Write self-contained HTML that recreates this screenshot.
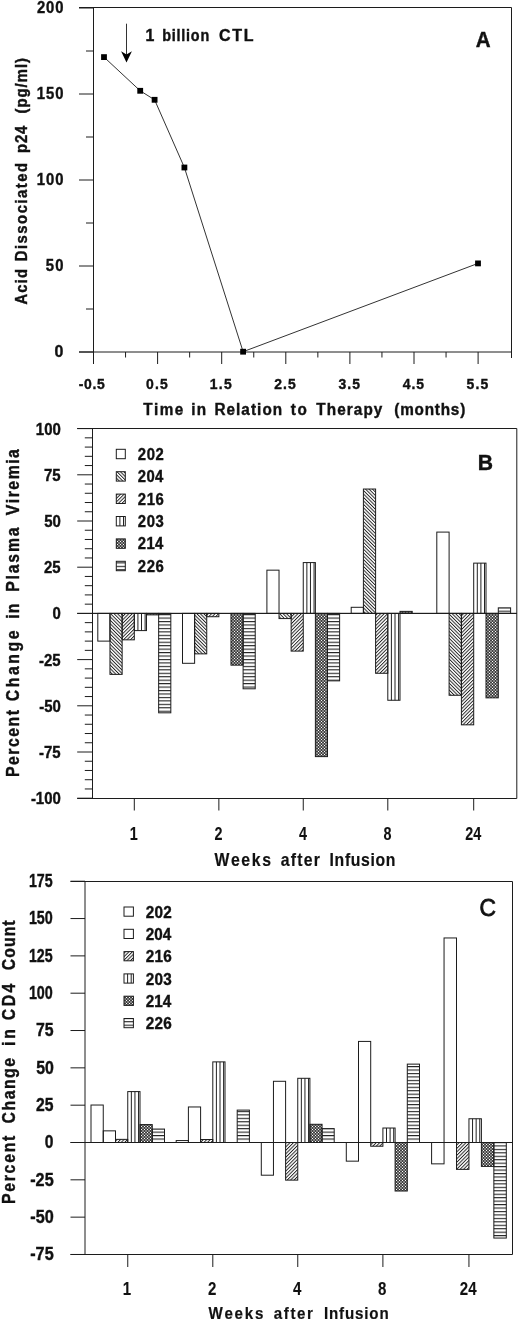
<!DOCTYPE html>
<html><head><meta charset="utf-8"><style>
html,body{margin:0;padding:0;background:#fff;}
svg{display:block;will-change:transform;}
text{font-family:"Liberation Sans",sans-serif;font-weight:bold;fill:#111;font-kerning:none;stroke:#111;stroke-width:0.4px;}
</style></head><body>
<svg width="520" height="1322" viewBox="0 0 520 1322">
<rect width="520" height="1322" fill="#fff"/>
<defs>
<pattern id="p204" patternUnits="userSpaceOnUse" width="2.440" height="10" patternTransform="rotate(-45)">
  <rect x="0" y="0" width="0.95" height="10" fill="#222"/></pattern>
<pattern id="p216" patternUnits="userSpaceOnUse" width="2.440" height="10" patternTransform="rotate(45)">
  <rect x="0" y="0" width="0.95" height="10" fill="#222"/></pattern>
<pattern id="p203" patternUnits="userSpaceOnUse" width="3.45" height="10">
  <rect x="0" y="0" width="1.0" height="10" fill="#222"/></pattern>
<pattern id="p226" patternUnits="userSpaceOnUse" width="10" height="3.45">
  <rect x="0" y="0" width="10" height="1.1" fill="#222"/></pattern>
<pattern id="p214a" patternUnits="userSpaceOnUse" width="2.12132" height="10" patternTransform="rotate(45)">
  <rect x="0" y="0" width="0.7" height="10" fill="#000"/></pattern>
<pattern id="p214b" patternUnits="userSpaceOnUse" width="2.12132" height="10" patternTransform="rotate(-45)">
  <rect x="0" y="0" width="0.7" height="10" fill="#000"/></pattern>
</defs>
<line x1="79" y1="7.5" x2="511.5" y2="7.5" stroke="#1c1c1c" stroke-width="1.0"/>
<line x1="93.5" y1="7.5" x2="93.5" y2="364" stroke="#1c1c1c" stroke-width="1.0"/>
<line x1="511.5" y1="7.5" x2="511.5" y2="358" stroke="#1c1c1c" stroke-width="1.0"/>
<line x1="79" y1="352" x2="511.5" y2="352" stroke="#1c1c1c" stroke-width="1.0"/>
<line x1="79" y1="8.0" x2="93.5" y2="8.0" stroke="#1c1c1c" stroke-width="1.0"/>
<line x1="79" y1="94.0" x2="93.5" y2="94.0" stroke="#1c1c1c" stroke-width="1.0"/>
<line x1="79" y1="180.0" x2="93.5" y2="180.0" stroke="#1c1c1c" stroke-width="1.0"/>
<line x1="79" y1="266.0" x2="93.5" y2="266.0" stroke="#1c1c1c" stroke-width="1.0"/>
<line x1="79" y1="352.0" x2="93.5" y2="352.0" stroke="#1c1c1c" stroke-width="1.0"/>
<line x1="86" y1="51.0" x2="93.5" y2="51.0" stroke="#1c1c1c" stroke-width="1.0"/>
<line x1="86" y1="137.0" x2="93.5" y2="137.0" stroke="#1c1c1c" stroke-width="1.0"/>
<line x1="86" y1="223.0" x2="93.5" y2="223.0" stroke="#1c1c1c" stroke-width="1.0"/>
<line x1="86" y1="309.0" x2="93.5" y2="309.0" stroke="#1c1c1c" stroke-width="1.0"/>
<line x1="93.5" y1="352" x2="93.5" y2="364" stroke="#1c1c1c" stroke-width="1.0"/>
<line x1="157.6" y1="352" x2="157.6" y2="364" stroke="#1c1c1c" stroke-width="1.0"/>
<line x1="221.7" y1="352" x2="221.7" y2="364" stroke="#1c1c1c" stroke-width="1.0"/>
<line x1="285.79999999999995" y1="352" x2="285.79999999999995" y2="364" stroke="#1c1c1c" stroke-width="1.0"/>
<line x1="349.9" y1="352" x2="349.9" y2="364" stroke="#1c1c1c" stroke-width="1.0"/>
<line x1="414.0" y1="352" x2="414.0" y2="364" stroke="#1c1c1c" stroke-width="1.0"/>
<line x1="478.09999999999997" y1="352" x2="478.09999999999997" y2="364" stroke="#1c1c1c" stroke-width="1.0"/>
<line x1="125.55" y1="352" x2="125.55" y2="357.5" stroke="#1c1c1c" stroke-width="1.0"/>
<line x1="189.64999999999998" y1="352" x2="189.64999999999998" y2="357.5" stroke="#1c1c1c" stroke-width="1.0"/>
<line x1="253.75" y1="352" x2="253.75" y2="357.5" stroke="#1c1c1c" stroke-width="1.0"/>
<line x1="317.84999999999997" y1="352" x2="317.84999999999997" y2="357.5" stroke="#1c1c1c" stroke-width="1.0"/>
<line x1="381.95" y1="352" x2="381.95" y2="357.5" stroke="#1c1c1c" stroke-width="1.0"/>
<line x1="446.04999999999995" y1="352" x2="446.04999999999995" y2="357.5" stroke="#1c1c1c" stroke-width="1.0"/>
<text transform="translate(37.60,13.00) scale(0.9,1)" x="-0.57" y="0" font-size="16.5" textLength="29.25" lengthAdjust="spacing">200</text>
<text transform="translate(37.60,99.00) scale(0.9,1)" x="-1.04" y="0" font-size="16.5" textLength="29.72" lengthAdjust="spacing">150</text>
<text transform="translate(37.60,185.00) scale(0.9,1)" x="-1.04" y="0" font-size="16.5" textLength="29.72" lengthAdjust="spacing">100</text>
<text transform="translate(46.30,271.00) scale(0.9,1)" x="-0.51" y="0" font-size="16.5" textLength="19.52" lengthAdjust="spacing">50</text>
<text transform="translate(55.20,357.00) scale(0.9,1)" x="-0.70" y="0" font-size="16.5" textLength="9.87" lengthAdjust="spacingAndGlyphs">0</text>
<text transform="translate(79.30,389.10) scale(0.9,1)" x="-0.61" y="0" font-size="15.5" textLength="29.04" lengthAdjust="spacing">-0.5</text>
<text transform="translate(146.50,389.10) scale(0.9,1)" x="-0.61" y="0" font-size="15.5" textLength="24.16" lengthAdjust="spacing">0.5</text>
<text transform="translate(210.60,389.10) scale(0.9,1)" x="-0.98" y="0" font-size="15.5" textLength="24.52" lengthAdjust="spacing">1.5</text>
<text transform="translate(274.70,389.10) scale(0.9,1)" x="-0.54" y="0" font-size="15.5" textLength="24.08" lengthAdjust="spacing">2.5</text>
<text transform="translate(338.80,389.10) scale(0.9,1)" x="-0.36" y="0" font-size="15.5" textLength="23.90" lengthAdjust="spacing">3.5</text>
<text transform="translate(402.90,389.10) scale(0.9,1)" x="-0.23" y="0" font-size="15.5" textLength="23.78" lengthAdjust="spacing">4.5</text>
<text transform="translate(467.00,389.10) scale(0.9,1)" x="-0.48" y="0" font-size="15.5" textLength="24.02" lengthAdjust="spacing">5.5</text>
<text transform="translate(143.50,414.80) scale(0.9,1)" x="-0.19" y="0" font-size="17" textLength="44.33" lengthAdjust="spacing">Time</text>
<text transform="translate(192.30,414.80) scale(0.9,1)" x="-1.19" y="0" font-size="17" textLength="16.54" lengthAdjust="spacing">in</text>
<text transform="translate(215.40,414.80) scale(0.9,1)" x="-1.14" y="0" font-size="17" textLength="75.30" lengthAdjust="spacing">Relation</text>
<text transform="translate(291.00,414.80) scale(0.9,1)" x="-0.21" y="0" font-size="17" textLength="17.87" lengthAdjust="spacing">to</text>
<text transform="translate(316.50,414.80) scale(0.9,1)" x="-0.19" y="0" font-size="17" textLength="73.39" lengthAdjust="spacing">Therapy</text>
<text transform="translate(395.10,414.80) scale(0.9,1)" x="-0.85" y="0" font-size="17" textLength="78.80" lengthAdjust="spacing">(months)</text>
<text transform="translate(26.60,304.10) rotate(-90) scale(0.9,1)" x="-0.41" y="0" font-size="16.5" textLength="39.39" lengthAdjust="spacing">Acid</text>
<text transform="translate(26.60,260.30) rotate(-90) scale(0.9,1)" x="-1.10" y="0" font-size="16.5" textLength="109.30" lengthAdjust="spacing">Dissociated</text>
<text transform="translate(26.60,151.90) rotate(-90) scale(0.9,1)" x="-1.09" y="0" font-size="16.5" textLength="30.18" lengthAdjust="spacing">p24</text>
<text transform="translate(26.60,112.70) rotate(-90) scale(0.9,1)" x="-0.82" y="0" font-size="16.5" textLength="61.59" lengthAdjust="spacing">(pg/ml)</text>
<polyline fill="none" stroke="#333" stroke-width="1" points="104.0,57.1 140.2,90.8 154.6,99.8 184.4,167.5 243.1,351.7 478.0,263.4"/>
<rect x="101.10" y="54.20" width="5.8" height="5.8" fill="#000"/>
<rect x="137.30" y="87.90" width="5.8" height="5.8" fill="#000"/>
<rect x="151.70" y="96.90" width="5.8" height="5.8" fill="#000"/>
<rect x="181.50" y="164.60" width="5.8" height="5.8" fill="#000"/>
<rect x="240.20" y="348.80" width="5.8" height="5.8" fill="#000"/>
<rect x="475.10" y="260.50" width="5.8" height="5.8" fill="#000"/>
<line x1="126.5" y1="23.7" x2="126.5" y2="55" stroke="#333" stroke-width="1.0"/>
<path d="M121.1,51.2 L126.5,54.6 L131.9,51.2 L126.5,62.6 Z" fill="#000"/>
<text transform="translate(146.50,40.50) scale(0.9,1)" x="-1.11" y="0" font-size="16" textLength="9.83" lengthAdjust="spacingAndGlyphs">1</text>
<text transform="translate(163.10,40.50) scale(0.9,1)" x="-1.05" y="0" font-size="16" textLength="52.27" lengthAdjust="spacing">billion</text>
<text transform="translate(219.60,40.50) scale(1.0,1)" x="-0.66" y="0" font-size="16" textLength="34.65" lengthAdjust="spacing">CTL</text>
<text transform="translate(476.20,46.90) scale(0.9,1)" x="-0.57" y="0" font-size="21.5" textLength="16.51" lengthAdjust="spacingAndGlyphs">A</text>
<line x1="77.2" y1="428.5" x2="516.8" y2="428.5" stroke="#1c1c1c" stroke-width="1.0"/>
<line x1="92.5" y1="428.5" x2="92.5" y2="798.5" stroke="#1c1c1c" stroke-width="1.0"/>
<line x1="516.8" y1="428.5" x2="516.8" y2="798.5" stroke="#1c1c1c" stroke-width="1.0"/>
<line x1="77.2" y1="798.5" x2="516.8" y2="798.5" stroke="#1c1c1c" stroke-width="1.0"/>
<line x1="77.2" y1="613.4" x2="516.8" y2="613.4" stroke="#1c1c1c" stroke-width="1.0"/>
<line x1="77.2" y1="798.2" x2="92.5" y2="798.2" stroke="#1c1c1c" stroke-width="1.0"/>
<line x1="84.8" y1="788.96" x2="92.5" y2="788.96" stroke="#1c1c1c" stroke-width="1.0"/>
<line x1="84.8" y1="779.72" x2="92.5" y2="779.72" stroke="#1c1c1c" stroke-width="1.0"/>
<line x1="84.8" y1="770.48" x2="92.5" y2="770.48" stroke="#1c1c1c" stroke-width="1.0"/>
<line x1="84.8" y1="761.24" x2="92.5" y2="761.24" stroke="#1c1c1c" stroke-width="1.0"/>
<line x1="77.2" y1="752.0" x2="92.5" y2="752.0" stroke="#1c1c1c" stroke-width="1.0"/>
<line x1="84.8" y1="742.76" x2="92.5" y2="742.76" stroke="#1c1c1c" stroke-width="1.0"/>
<line x1="84.8" y1="733.52" x2="92.5" y2="733.52" stroke="#1c1c1c" stroke-width="1.0"/>
<line x1="84.8" y1="724.28" x2="92.5" y2="724.28" stroke="#1c1c1c" stroke-width="1.0"/>
<line x1="84.8" y1="715.04" x2="92.5" y2="715.04" stroke="#1c1c1c" stroke-width="1.0"/>
<line x1="77.2" y1="705.8" x2="92.5" y2="705.8" stroke="#1c1c1c" stroke-width="1.0"/>
<line x1="84.8" y1="696.56" x2="92.5" y2="696.56" stroke="#1c1c1c" stroke-width="1.0"/>
<line x1="84.8" y1="687.3199999999999" x2="92.5" y2="687.3199999999999" stroke="#1c1c1c" stroke-width="1.0"/>
<line x1="84.8" y1="678.0799999999999" x2="92.5" y2="678.0799999999999" stroke="#1c1c1c" stroke-width="1.0"/>
<line x1="84.8" y1="668.84" x2="92.5" y2="668.84" stroke="#1c1c1c" stroke-width="1.0"/>
<line x1="77.2" y1="659.6" x2="92.5" y2="659.6" stroke="#1c1c1c" stroke-width="1.0"/>
<line x1="84.8" y1="650.36" x2="92.5" y2="650.36" stroke="#1c1c1c" stroke-width="1.0"/>
<line x1="84.8" y1="641.12" x2="92.5" y2="641.12" stroke="#1c1c1c" stroke-width="1.0"/>
<line x1="84.8" y1="631.88" x2="92.5" y2="631.88" stroke="#1c1c1c" stroke-width="1.0"/>
<line x1="84.8" y1="622.64" x2="92.5" y2="622.64" stroke="#1c1c1c" stroke-width="1.0"/>
<line x1="77.2" y1="613.4" x2="92.5" y2="613.4" stroke="#1c1c1c" stroke-width="1.0"/>
<line x1="84.8" y1="604.16" x2="92.5" y2="604.16" stroke="#1c1c1c" stroke-width="1.0"/>
<line x1="84.8" y1="594.92" x2="92.5" y2="594.92" stroke="#1c1c1c" stroke-width="1.0"/>
<line x1="84.8" y1="585.68" x2="92.5" y2="585.68" stroke="#1c1c1c" stroke-width="1.0"/>
<line x1="84.8" y1="576.4399999999999" x2="92.5" y2="576.4399999999999" stroke="#1c1c1c" stroke-width="1.0"/>
<line x1="77.2" y1="567.1999999999999" x2="92.5" y2="567.1999999999999" stroke="#1c1c1c" stroke-width="1.0"/>
<line x1="84.8" y1="557.9599999999999" x2="92.5" y2="557.9599999999999" stroke="#1c1c1c" stroke-width="1.0"/>
<line x1="84.8" y1="548.72" x2="92.5" y2="548.72" stroke="#1c1c1c" stroke-width="1.0"/>
<line x1="84.8" y1="539.48" x2="92.5" y2="539.48" stroke="#1c1c1c" stroke-width="1.0"/>
<line x1="84.8" y1="530.24" x2="92.5" y2="530.24" stroke="#1c1c1c" stroke-width="1.0"/>
<line x1="77.2" y1="521.0" x2="92.5" y2="521.0" stroke="#1c1c1c" stroke-width="1.0"/>
<line x1="84.8" y1="511.76" x2="92.5" y2="511.76" stroke="#1c1c1c" stroke-width="1.0"/>
<line x1="84.8" y1="502.52" x2="92.5" y2="502.52" stroke="#1c1c1c" stroke-width="1.0"/>
<line x1="84.8" y1="493.28" x2="92.5" y2="493.28" stroke="#1c1c1c" stroke-width="1.0"/>
<line x1="84.8" y1="484.03999999999996" x2="92.5" y2="484.03999999999996" stroke="#1c1c1c" stroke-width="1.0"/>
<line x1="77.2" y1="474.79999999999995" x2="92.5" y2="474.79999999999995" stroke="#1c1c1c" stroke-width="1.0"/>
<line x1="84.8" y1="465.55999999999995" x2="92.5" y2="465.55999999999995" stroke="#1c1c1c" stroke-width="1.0"/>
<line x1="84.8" y1="456.31999999999994" x2="92.5" y2="456.31999999999994" stroke="#1c1c1c" stroke-width="1.0"/>
<line x1="84.8" y1="447.0799999999999" x2="92.5" y2="447.0799999999999" stroke="#1c1c1c" stroke-width="1.0"/>
<line x1="84.8" y1="437.84" x2="92.5" y2="437.84" stroke="#1c1c1c" stroke-width="1.0"/>
<line x1="77.2" y1="428.59999999999997" x2="92.5" y2="428.59999999999997" stroke="#1c1c1c" stroke-width="1.0"/>
<rect x="97.80" y="613.40" width="12.17" height="27.72" fill="none" stroke="#1c1c1c" stroke-width="1"/>
<rect x="109.97" y="613.40" width="12.17" height="60.98" fill="url(#p204)"/>
<rect x="109.97" y="613.40" width="12.17" height="60.98" fill="none" stroke="#1c1c1c" stroke-width="1"/>
<rect x="122.14" y="613.40" width="12.17" height="26.43" fill="url(#p216)"/>
<rect x="122.14" y="613.40" width="12.17" height="26.43" fill="none" stroke="#1c1c1c" stroke-width="1"/>
<line x1="137.91" y1="613.40" x2="137.91" y2="630.59" stroke="#222" stroke-width="1"/>
<line x1="141.51" y1="613.40" x2="141.51" y2="630.59" stroke="#222" stroke-width="1"/>
<line x1="145.11" y1="613.40" x2="145.11" y2="630.59" stroke="#222" stroke-width="1"/>
<rect x="134.31" y="613.40" width="12.17" height="17.19" fill="none" stroke="#1c1c1c" stroke-width="1"/>
<rect x="146.48" y="613.40" width="12.17" height="1.48" fill="url(#p214a)"/>
<rect x="146.48" y="613.40" width="12.17" height="1.48" fill="url(#p214b)"/>
<rect x="146.48" y="613.40" width="12.17" height="1.48" fill="none" stroke="#1c1c1c" stroke-width="1"/>
<rect x="158.65" y="613.40" width="12.17" height="99.42" fill="url(#p226)"/>
<rect x="158.65" y="613.40" width="12.17" height="99.42" fill="none" stroke="#1c1c1c" stroke-width="1"/>
<rect x="182.50" y="613.40" width="12.12" height="49.90" fill="none" stroke="#1c1c1c" stroke-width="1"/>
<rect x="194.62" y="613.40" width="12.12" height="40.47" fill="url(#p204)"/>
<rect x="194.62" y="613.40" width="12.12" height="40.47" fill="none" stroke="#1c1c1c" stroke-width="1"/>
<rect x="206.74" y="613.40" width="12.12" height="3.33" fill="url(#p216)"/>
<rect x="206.74" y="613.40" width="12.12" height="3.33" fill="none" stroke="#1c1c1c" stroke-width="1"/>
<rect x="230.98" y="613.40" width="12.12" height="51.74" fill="url(#p214a)"/>
<rect x="230.98" y="613.40" width="12.12" height="51.74" fill="url(#p214b)"/>
<rect x="230.98" y="613.40" width="12.12" height="51.74" fill="none" stroke="#1c1c1c" stroke-width="1"/>
<rect x="243.10" y="613.40" width="12.12" height="75.40" fill="url(#p226)"/>
<rect x="243.10" y="613.40" width="12.12" height="75.40" fill="none" stroke="#1c1c1c" stroke-width="1"/>
<rect x="266.90" y="570.16" width="12.12" height="43.24" fill="none" stroke="#1c1c1c" stroke-width="1"/>
<rect x="279.02" y="613.40" width="12.12" height="5.17" fill="url(#p204)"/>
<rect x="279.02" y="613.40" width="12.12" height="5.17" fill="none" stroke="#1c1c1c" stroke-width="1"/>
<rect x="291.14" y="613.40" width="12.12" height="37.70" fill="url(#p216)"/>
<rect x="291.14" y="613.40" width="12.12" height="37.70" fill="none" stroke="#1c1c1c" stroke-width="1"/>
<line x1="306.86" y1="562.58" x2="306.86" y2="613.40" stroke="#222" stroke-width="1"/>
<line x1="310.46" y1="562.58" x2="310.46" y2="613.40" stroke="#222" stroke-width="1"/>
<line x1="314.06" y1="562.58" x2="314.06" y2="613.40" stroke="#222" stroke-width="1"/>
<rect x="303.26" y="562.58" width="12.12" height="50.82" fill="none" stroke="#1c1c1c" stroke-width="1"/>
<rect x="315.38" y="613.40" width="12.12" height="143.22" fill="url(#p214a)"/>
<rect x="315.38" y="613.40" width="12.12" height="143.22" fill="url(#p214b)"/>
<rect x="315.38" y="613.40" width="12.12" height="143.22" fill="none" stroke="#1c1c1c" stroke-width="1"/>
<rect x="327.50" y="613.40" width="12.12" height="67.45" fill="url(#p226)"/>
<rect x="327.50" y="613.40" width="12.12" height="67.45" fill="none" stroke="#1c1c1c" stroke-width="1"/>
<rect x="351.20" y="607.30" width="12.20" height="6.10" fill="none" stroke="#1c1c1c" stroke-width="1"/>
<rect x="363.40" y="489.03" width="12.20" height="124.37" fill="url(#p204)"/>
<rect x="363.40" y="489.03" width="12.20" height="124.37" fill="none" stroke="#1c1c1c" stroke-width="1"/>
<rect x="375.60" y="613.40" width="12.20" height="59.88" fill="url(#p216)"/>
<rect x="375.60" y="613.40" width="12.20" height="59.88" fill="none" stroke="#1c1c1c" stroke-width="1"/>
<line x1="391.40" y1="613.40" x2="391.40" y2="700.26" stroke="#222" stroke-width="1"/>
<line x1="395.00" y1="613.40" x2="395.00" y2="700.26" stroke="#222" stroke-width="1"/>
<line x1="398.60" y1="613.40" x2="398.60" y2="700.26" stroke="#222" stroke-width="1"/>
<rect x="387.80" y="613.40" width="12.20" height="86.86" fill="none" stroke="#1c1c1c" stroke-width="1"/>
<rect x="400.00" y="611.37" width="12.20" height="2.03" fill="url(#p214a)"/>
<rect x="400.00" y="611.37" width="12.20" height="2.03" fill="url(#p214b)"/>
<rect x="400.00" y="611.37" width="12.20" height="2.03" fill="none" stroke="#1c1c1c" stroke-width="1"/>
<rect x="436.80" y="532.09" width="12.30" height="81.31" fill="none" stroke="#1c1c1c" stroke-width="1"/>
<rect x="449.10" y="613.40" width="12.30" height="81.87" fill="url(#p204)"/>
<rect x="449.10" y="613.40" width="12.30" height="81.87" fill="none" stroke="#1c1c1c" stroke-width="1"/>
<rect x="461.40" y="613.40" width="12.30" height="111.43" fill="url(#p216)"/>
<rect x="461.40" y="613.40" width="12.30" height="111.43" fill="none" stroke="#1c1c1c" stroke-width="1"/>
<line x1="477.30" y1="563.13" x2="477.30" y2="613.40" stroke="#222" stroke-width="1"/>
<line x1="480.90" y1="563.13" x2="480.90" y2="613.40" stroke="#222" stroke-width="1"/>
<line x1="484.50" y1="563.13" x2="484.50" y2="613.40" stroke="#222" stroke-width="1"/>
<rect x="473.70" y="563.13" width="12.30" height="50.27" fill="none" stroke="#1c1c1c" stroke-width="1"/>
<rect x="486.00" y="613.40" width="12.30" height="84.45" fill="url(#p214a)"/>
<rect x="486.00" y="613.40" width="12.30" height="84.45" fill="url(#p214b)"/>
<rect x="486.00" y="613.40" width="12.30" height="84.45" fill="none" stroke="#1c1c1c" stroke-width="1"/>
<rect x="498.30" y="607.86" width="12.30" height="5.54" fill="url(#p226)"/>
<rect x="498.30" y="607.86" width="12.30" height="5.54" fill="none" stroke="#1c1c1c" stroke-width="1"/>
<line x1="92.5" y1="613.4" x2="516.8" y2="613.4" stroke="#1c1c1c" stroke-width="1.0"/>
<line x1="134.31" y1="798.5" x2="134.31" y2="810.5" stroke="#1c1c1c" stroke-width="1.0"/>
<line x1="218.86" y1="798.5" x2="218.86" y2="810.5" stroke="#1c1c1c" stroke-width="1.0"/>
<line x1="303.26" y1="798.5" x2="303.26" y2="810.5" stroke="#1c1c1c" stroke-width="1.0"/>
<line x1="387.79999999999995" y1="798.5" x2="387.79999999999995" y2="810.5" stroke="#1c1c1c" stroke-width="1.0"/>
<line x1="473.70000000000005" y1="798.5" x2="473.70000000000005" y2="810.5" stroke="#1c1c1c" stroke-width="1.0"/>
<text transform="translate(36.80,434.60) scale(0.9,1)" x="-1.05" y="0" font-size="17" textLength="27.73" lengthAdjust="spacingAndGlyphs">100</text>
<text transform="translate(44.62,480.80) scale(0.9,1)" x="-0.71" y="0" font-size="17" textLength="18.49" lengthAdjust="spacingAndGlyphs">75</text>
<text transform="translate(44.63,527.00) scale(0.9,1)" x="-0.51" y="0" font-size="17" textLength="18.49" lengthAdjust="spacingAndGlyphs">50</text>
<text transform="translate(44.49,573.20) scale(0.9,1)" x="-0.58" y="0" font-size="17" textLength="18.49" lengthAdjust="spacingAndGlyphs">25</text>
<text transform="translate(53.09,619.40) scale(0.9,1)" x="-0.66" y="0" font-size="17" textLength="9.24" lengthAdjust="spacingAndGlyphs">0</text>
<text transform="translate(39.58,665.60) scale(0.9,1)" x="-0.65" y="0" font-size="17" textLength="24.02" lengthAdjust="spacingAndGlyphs">-25</text>
<text transform="translate(39.78,711.80) scale(0.9,1)" x="-0.65" y="0" font-size="17" textLength="24.02" lengthAdjust="spacingAndGlyphs">-50</text>
<text transform="translate(39.58,758.00) scale(0.9,1)" x="-0.65" y="0" font-size="17" textLength="24.02" lengthAdjust="spacingAndGlyphs">-75</text>
<text transform="translate(31.46,804.20) scale(0.9,1)" x="-0.65" y="0" font-size="17" textLength="33.27" lengthAdjust="spacingAndGlyphs">-100</text>
<text transform="translate(130.67,840.00) scale(0.9,1)" x="-1.00" y="0" font-size="17.5" textLength="8.87" lengthAdjust="spacingAndGlyphs" style="stroke-width:0.1px">1</text>
<text transform="translate(215.11,840.00) scale(0.9,1)" x="-0.55" y="0" font-size="17.5" textLength="8.87" lengthAdjust="spacingAndGlyphs" style="stroke-width:0.1px">2</text>
<text transform="translate(299.12,840.00) scale(0.9,1)" x="-0.24" y="0" font-size="17.5" textLength="8.87" lengthAdjust="spacingAndGlyphs" style="stroke-width:0.1px">4</text>
<text transform="translate(383.96,840.00) scale(0.9,1)" x="-0.51" y="0" font-size="17.5" textLength="8.87" lengthAdjust="spacingAndGlyphs" style="stroke-width:0.1px">8</text>
<text transform="translate(465.71,840.00) scale(0.9,1)" x="-0.55" y="0" font-size="17.5" textLength="17.74" lengthAdjust="spacingAndGlyphs" style="stroke-width:0.1px">24</text>
<text transform="translate(214.40,866.00) scale(0.9,1)" x="-0.02" y="0" font-size="17.5" textLength="62.85" lengthAdjust="spacing" style="stroke-width:0.2px">Weeks</text>
<text transform="translate(281.20,866.00) scale(0.9,1)" x="-0.51" y="0" font-size="17.5" textLength="43.44" lengthAdjust="spacing" style="stroke-width:0.2px">after</text>
<text transform="translate(330.60,866.00) scale(0.9,1)" x="-1.17" y="0" font-size="17.5" textLength="73.26" lengthAdjust="spacing" style="stroke-width:0.2px">Infusion</text>
<text transform="translate(18.70,775.90) rotate(-90) scale(0.9,1)" x="-1.17" y="0" font-size="17.5" textLength="74.38" lengthAdjust="spacing">Percent</text>
<text transform="translate(18.70,700.60) rotate(-90) scale(0.9,1)" x="-0.72" y="0" font-size="17.5" textLength="78.65" lengthAdjust="spacing">Change</text>
<text transform="translate(18.70,617.60) rotate(-90) scale(0.9,1)" x="-1.22" y="0" font-size="17.5" textLength="16.86" lengthAdjust="spacing">in</text>
<text transform="translate(18.70,590.70) rotate(-90) scale(0.9,1)" x="-1.17" y="0" font-size="17.5" textLength="71.39" lengthAdjust="spacing">Plasma</text>
<text transform="translate(18.70,515.10) rotate(-90) scale(0.9,1)" x="-0.12" y="0" font-size="17.5" textLength="73.34" lengthAdjust="spacing">Viremia</text>
<rect x="116.30" y="449.30" width="9.00" height="9.40" fill="none" stroke="#1c1c1c" stroke-width="1"/>
<text transform="translate(138.30,459.70) scale(0.9,1)" x="-0.57" y="0" font-size="16.5" textLength="29.01" lengthAdjust="spacing">202</text>
<rect x="116.30" y="471.70" width="9.00" height="9.40" fill="url(#p204)"/>
<rect x="116.30" y="471.70" width="9.00" height="9.40" fill="none" stroke="#1c1c1c" stroke-width="1"/>
<text transform="translate(138.30,482.10) scale(0.9,1)" x="-0.57" y="0" font-size="16.5" textLength="28.44" lengthAdjust="spacing">204</text>
<rect x="116.30" y="494.10" width="9.00" height="9.40" fill="url(#p216)"/>
<rect x="116.30" y="494.10" width="9.00" height="9.40" fill="none" stroke="#1c1c1c" stroke-width="1"/>
<text transform="translate(138.30,504.50) scale(0.9,1)" x="-0.57" y="0" font-size="16.5" textLength="28.95" lengthAdjust="spacing">216</text>
<line x1="119.90" y1="516.50" x2="119.90" y2="525.90" stroke="#222" stroke-width="1"/>
<line x1="123.50" y1="516.50" x2="123.50" y2="525.90" stroke="#222" stroke-width="1"/>
<rect x="116.30" y="516.50" width="9.00" height="9.40" fill="none" stroke="#1c1c1c" stroke-width="1"/>
<text transform="translate(138.30,526.90) scale(0.9,1)" x="-0.57" y="0" font-size="16.5" textLength="28.95" lengthAdjust="spacing">203</text>
<rect x="116.30" y="538.90" width="9.00" height="9.40" fill="url(#p214a)"/>
<rect x="116.30" y="538.90" width="9.00" height="9.40" fill="url(#p214b)"/>
<rect x="116.30" y="538.90" width="9.00" height="9.40" fill="none" stroke="#1c1c1c" stroke-width="1"/>
<text transform="translate(138.30,549.30) scale(0.9,1)" x="-0.57" y="0" font-size="16.5" textLength="28.44" lengthAdjust="spacing">214</text>
<rect x="116.30" y="561.30" width="9.00" height="9.40" fill="url(#p226)"/>
<rect x="116.30" y="561.30" width="9.00" height="9.40" fill="none" stroke="#1c1c1c" stroke-width="1"/>
<text transform="translate(138.30,571.70) scale(0.9,1)" x="-0.57" y="0" font-size="16.5" textLength="28.95" lengthAdjust="spacing">226</text>
<text transform="translate(479.20,470.20) scale(0.9,1)" x="-1.57" y="0" font-size="21.5" textLength="16.97" lengthAdjust="spacingAndGlyphs">B</text>
<line x1="70.5" y1="881.5" x2="512.5" y2="881.5" stroke="#1c1c1c" stroke-width="1.0"/>
<line x1="85.0" y1="881.5" x2="85.0" y2="1254.5" stroke="#1c1c1c" stroke-width="1.0"/>
<line x1="512.5" y1="881.5" x2="512.5" y2="1254.5" stroke="#1c1c1c" stroke-width="1.0"/>
<line x1="70.5" y1="1254.5" x2="512.5" y2="1254.5" stroke="#1c1c1c" stroke-width="1.0"/>
<line x1="70.5" y1="1142.5" x2="512.5" y2="1142.5" stroke="#1c1c1c" stroke-width="1.0"/>
<line x1="70.5" y1="1254.475" x2="85.0" y2="1254.475" stroke="#1c1c1c" stroke-width="1.0"/>
<line x1="70.5" y1="1217.15" x2="85.0" y2="1217.15" stroke="#1c1c1c" stroke-width="1.0"/>
<line x1="70.5" y1="1179.825" x2="85.0" y2="1179.825" stroke="#1c1c1c" stroke-width="1.0"/>
<line x1="70.5" y1="1142.5" x2="85.0" y2="1142.5" stroke="#1c1c1c" stroke-width="1.0"/>
<line x1="70.5" y1="1105.175" x2="85.0" y2="1105.175" stroke="#1c1c1c" stroke-width="1.0"/>
<line x1="70.5" y1="1067.85" x2="85.0" y2="1067.85" stroke="#1c1c1c" stroke-width="1.0"/>
<line x1="70.5" y1="1030.525" x2="85.0" y2="1030.525" stroke="#1c1c1c" stroke-width="1.0"/>
<line x1="70.5" y1="993.2" x2="85.0" y2="993.2" stroke="#1c1c1c" stroke-width="1.0"/>
<line x1="70.5" y1="955.875" x2="85.0" y2="955.875" stroke="#1c1c1c" stroke-width="1.0"/>
<line x1="70.5" y1="918.55" x2="85.0" y2="918.55" stroke="#1c1c1c" stroke-width="1.0"/>
<line x1="70.5" y1="881.2249999999999" x2="85.0" y2="881.2249999999999" stroke="#1c1c1c" stroke-width="1.0"/>
<rect x="91.00" y="1105.03" width="12.25" height="37.47" fill="none" stroke="#1c1c1c" stroke-width="1"/>
<rect x="103.25" y="1130.85" width="12.25" height="11.65" fill="none" stroke="#1c1c1c" stroke-width="1"/>
<rect x="115.50" y="1139.36" width="12.25" height="3.14" fill="url(#p216)"/>
<rect x="115.50" y="1139.36" width="12.25" height="3.14" fill="none" stroke="#1c1c1c" stroke-width="1"/>
<line x1="131.35" y1="1091.59" x2="131.35" y2="1142.50" stroke="#222" stroke-width="1"/>
<line x1="134.95" y1="1091.59" x2="134.95" y2="1142.50" stroke="#222" stroke-width="1"/>
<line x1="138.55" y1="1091.59" x2="138.55" y2="1142.50" stroke="#222" stroke-width="1"/>
<rect x="127.75" y="1091.59" width="12.25" height="50.91" fill="none" stroke="#1c1c1c" stroke-width="1"/>
<rect x="140.00" y="1124.58" width="12.25" height="17.92" fill="url(#p214a)"/>
<rect x="140.00" y="1124.58" width="12.25" height="17.92" fill="url(#p214b)"/>
<rect x="140.00" y="1124.58" width="12.25" height="17.92" fill="none" stroke="#1c1c1c" stroke-width="1"/>
<rect x="152.25" y="1129.06" width="12.25" height="13.44" fill="url(#p226)"/>
<rect x="152.25" y="1129.06" width="12.25" height="13.44" fill="none" stroke="#1c1c1c" stroke-width="1"/>
<rect x="176.20" y="1140.56" width="12.20" height="1.94" fill="none" stroke="#1c1c1c" stroke-width="1"/>
<rect x="188.40" y="1106.97" width="12.20" height="35.53" fill="none" stroke="#1c1c1c" stroke-width="1"/>
<rect x="200.60" y="1139.51" width="12.20" height="2.99" fill="url(#p216)"/>
<rect x="200.60" y="1139.51" width="12.20" height="2.99" fill="none" stroke="#1c1c1c" stroke-width="1"/>
<line x1="216.40" y1="1061.88" x2="216.40" y2="1142.50" stroke="#222" stroke-width="1"/>
<line x1="220.00" y1="1061.88" x2="220.00" y2="1142.50" stroke="#222" stroke-width="1"/>
<line x1="223.60" y1="1061.88" x2="223.60" y2="1142.50" stroke="#222" stroke-width="1"/>
<rect x="212.80" y="1061.88" width="12.20" height="80.62" fill="none" stroke="#1c1c1c" stroke-width="1"/>
<rect x="237.20" y="1110.10" width="12.20" height="32.40" fill="url(#p226)"/>
<rect x="237.20" y="1110.10" width="12.20" height="32.40" fill="none" stroke="#1c1c1c" stroke-width="1"/>
<rect x="261.30" y="1142.50" width="12.15" height="32.70" fill="none" stroke="#1c1c1c" stroke-width="1"/>
<rect x="273.45" y="1081.29" width="12.15" height="61.21" fill="none" stroke="#1c1c1c" stroke-width="1"/>
<rect x="285.60" y="1142.50" width="12.15" height="37.62" fill="url(#p216)"/>
<rect x="285.60" y="1142.50" width="12.15" height="37.62" fill="none" stroke="#1c1c1c" stroke-width="1"/>
<line x1="301.35" y1="1078.30" x2="301.35" y2="1142.50" stroke="#222" stroke-width="1"/>
<line x1="304.95" y1="1078.30" x2="304.95" y2="1142.50" stroke="#222" stroke-width="1"/>
<line x1="308.55" y1="1078.30" x2="308.55" y2="1142.50" stroke="#222" stroke-width="1"/>
<rect x="297.75" y="1078.30" width="12.15" height="64.20" fill="none" stroke="#1c1c1c" stroke-width="1"/>
<rect x="309.90" y="1124.29" width="12.15" height="18.21" fill="url(#p214a)"/>
<rect x="309.90" y="1124.29" width="12.15" height="18.21" fill="url(#p214b)"/>
<rect x="309.90" y="1124.29" width="12.15" height="18.21" fill="none" stroke="#1c1c1c" stroke-width="1"/>
<rect x="322.05" y="1128.62" width="12.15" height="13.88" fill="url(#p226)"/>
<rect x="322.05" y="1128.62" width="12.15" height="13.88" fill="none" stroke="#1c1c1c" stroke-width="1"/>
<rect x="346.30" y="1142.50" width="12.20" height="18.66" fill="none" stroke="#1c1c1c" stroke-width="1"/>
<rect x="358.50" y="1041.42" width="12.20" height="101.08" fill="none" stroke="#1c1c1c" stroke-width="1"/>
<rect x="370.70" y="1142.50" width="12.20" height="3.73" fill="url(#p216)"/>
<rect x="370.70" y="1142.50" width="12.20" height="3.73" fill="none" stroke="#1c1c1c" stroke-width="1"/>
<line x1="386.50" y1="1128.02" x2="386.50" y2="1142.50" stroke="#222" stroke-width="1"/>
<line x1="390.10" y1="1128.02" x2="390.10" y2="1142.50" stroke="#222" stroke-width="1"/>
<line x1="393.70" y1="1128.02" x2="393.70" y2="1142.50" stroke="#222" stroke-width="1"/>
<rect x="382.90" y="1128.02" width="12.20" height="14.48" fill="none" stroke="#1c1c1c" stroke-width="1"/>
<rect x="395.10" y="1142.50" width="12.20" height="48.52" fill="url(#p214a)"/>
<rect x="395.10" y="1142.50" width="12.20" height="48.52" fill="url(#p214b)"/>
<rect x="395.10" y="1142.50" width="12.20" height="48.52" fill="none" stroke="#1c1c1c" stroke-width="1"/>
<rect x="407.30" y="1064.12" width="12.20" height="78.38" fill="url(#p226)"/>
<rect x="407.30" y="1064.12" width="12.20" height="78.38" fill="none" stroke="#1c1c1c" stroke-width="1"/>
<rect x="431.60" y="1142.50" width="12.45" height="21.35" fill="none" stroke="#1c1c1c" stroke-width="1"/>
<rect x="444.05" y="937.96" width="12.45" height="204.54" fill="none" stroke="#1c1c1c" stroke-width="1"/>
<rect x="456.50" y="1142.50" width="12.45" height="26.87" fill="url(#p216)"/>
<rect x="456.50" y="1142.50" width="12.45" height="26.87" fill="none" stroke="#1c1c1c" stroke-width="1"/>
<line x1="472.55" y1="1118.76" x2="472.55" y2="1142.50" stroke="#222" stroke-width="1"/>
<line x1="476.15" y1="1118.76" x2="476.15" y2="1142.50" stroke="#222" stroke-width="1"/>
<line x1="479.75" y1="1118.76" x2="479.75" y2="1142.50" stroke="#222" stroke-width="1"/>
<rect x="468.95" y="1118.76" width="12.45" height="23.74" fill="none" stroke="#1c1c1c" stroke-width="1"/>
<rect x="481.40" y="1142.50" width="12.45" height="23.89" fill="url(#p214a)"/>
<rect x="481.40" y="1142.50" width="12.45" height="23.89" fill="url(#p214b)"/>
<rect x="481.40" y="1142.50" width="12.45" height="23.89" fill="none" stroke="#1c1c1c" stroke-width="1"/>
<rect x="493.85" y="1142.50" width="12.45" height="95.55" fill="url(#p226)"/>
<rect x="493.85" y="1142.50" width="12.45" height="95.55" fill="none" stroke="#1c1c1c" stroke-width="1"/>
<line x1="85.0" y1="1142.5" x2="512.5" y2="1142.5" stroke="#1c1c1c" stroke-width="1.0"/>
<line x1="127.75" y1="1254.5" x2="127.75" y2="1267" stroke="#1c1c1c" stroke-width="1.0"/>
<line x1="212.79999999999998" y1="1254.5" x2="212.79999999999998" y2="1267" stroke="#1c1c1c" stroke-width="1.0"/>
<line x1="297.75" y1="1254.5" x2="297.75" y2="1267" stroke="#1c1c1c" stroke-width="1.0"/>
<line x1="382.9" y1="1254.5" x2="382.9" y2="1267" stroke="#1c1c1c" stroke-width="1.0"/>
<line x1="468.95000000000005" y1="1254.5" x2="468.95000000000005" y2="1267" stroke="#1c1c1c" stroke-width="1.0"/>
<text transform="translate(30.80,1260.38) scale(0.9,1)" x="-0.70" y="0" font-size="18" textLength="26.09" lengthAdjust="spacing">-75</text>
<text transform="translate(30.80,1223.05) scale(0.9,1)" x="-0.70" y="0" font-size="18" textLength="26.33" lengthAdjust="spacing">-50</text>
<text transform="translate(30.80,1185.73) scale(0.9,1)" x="-0.70" y="0" font-size="18" textLength="26.09" lengthAdjust="spacing">-25</text>
<text transform="translate(45.40,1148.40) scale(0.9,1)" x="-0.68" y="0" font-size="18" textLength="9.62" lengthAdjust="spacingAndGlyphs">0</text>
<text transform="translate(36.60,1111.08) scale(0.9,1)" x="-0.61" y="0" font-size="18" textLength="19.42" lengthAdjust="spacingAndGlyphs">25</text>
<text transform="translate(36.60,1073.75) scale(0.9,1)" x="-0.54" y="0" font-size="18" textLength="19.60" lengthAdjust="spacingAndGlyphs">50</text>
<text transform="translate(36.60,1036.43) scale(0.9,1)" x="-0.76" y="0" font-size="18" textLength="19.58" lengthAdjust="spacingAndGlyphs">75</text>
<text transform="translate(29.80,999.10) scale(0.9,1)" x="-1.00" y="0" font-size="18" textLength="26.54" lengthAdjust="spacingAndGlyphs">100</text>
<text transform="translate(29.80,961.77) scale(0.9,1)" x="-0.99" y="0" font-size="18" textLength="26.32" lengthAdjust="spacingAndGlyphs">125</text>
<text transform="translate(29.80,924.45) scale(0.9,1)" x="-1.00" y="0" font-size="18" textLength="26.54" lengthAdjust="spacingAndGlyphs">150</text>
<text transform="translate(29.80,887.12) scale(0.9,1)" x="-0.99" y="0" font-size="18" textLength="26.32" lengthAdjust="spacingAndGlyphs">175</text>
<text transform="translate(123.65,1294.60) scale(0.9,1)" x="-1.05" y="0" font-size="17.5" textLength="9.30" lengthAdjust="spacingAndGlyphs" style="stroke-width:0.1px">1</text>
<text transform="translate(208.58,1294.60) scale(0.9,1)" x="-0.58" y="0" font-size="17.5" textLength="9.30" lengthAdjust="spacingAndGlyphs" style="stroke-width:0.1px">2</text>
<text transform="translate(293.12,1294.60) scale(0.9,1)" x="-0.25" y="0" font-size="17.5" textLength="9.30" lengthAdjust="spacingAndGlyphs" style="stroke-width:0.1px">4</text>
<text transform="translate(378.59,1294.60) scale(0.9,1)" x="-0.53" y="0" font-size="17.5" textLength="9.30" lengthAdjust="spacingAndGlyphs" style="stroke-width:0.1px">8</text>
<text transform="translate(460.28,1294.60) scale(0.9,1)" x="-0.58" y="0" font-size="17.5" textLength="18.60" lengthAdjust="spacingAndGlyphs" style="stroke-width:0.1px">24</text>
<text transform="translate(208.50,1319.10) scale(0.9,1)" x="-0.02" y="0" font-size="16.8" textLength="60.93" lengthAdjust="spacing" style="stroke-width:0.2px">Weeks</text>
<text transform="translate(274.20,1319.10) scale(0.9,1)" x="-0.49" y="0" font-size="16.8" textLength="43.52" lengthAdjust="spacing" style="stroke-width:0.2px">after</text>
<text transform="translate(325.00,1319.10) scale(0.9,1)" x="-1.12" y="0" font-size="16.8" textLength="71.83" lengthAdjust="spacing" style="stroke-width:0.2px">Infusion</text>
<text transform="translate(15.00,1203.00) rotate(-90) scale(0.9,1)" x="-1.17" y="0" font-size="17.5" textLength="75.94" lengthAdjust="spacing">Percent</text>
<text transform="translate(15.00,1122.80) rotate(-90) scale(0.9,1)" x="-0.72" y="0" font-size="17.5" textLength="72.76" lengthAdjust="spacing">Change</text>
<text transform="translate(15.00,1044.80) rotate(-90) scale(0.9,1)" x="-1.22" y="0" font-size="17.5" textLength="18.75" lengthAdjust="spacing">in</text>
<text transform="translate(15.00,1019.70) rotate(-90) scale(0.9,1)" x="-0.72" y="0" font-size="17.5" textLength="40.81" lengthAdjust="spacing">CD4</text>
<text transform="translate(15.00,969.50) rotate(-90) scale(0.9,1)" x="-0.72" y="0" font-size="17.5" textLength="55.26" lengthAdjust="spacing">Count</text>
<rect x="124.00" y="907.00" width="9.40" height="9.20" fill="none" stroke="#1c1c1c" stroke-width="1"/>
<text transform="translate(146.30,917.60) scale(0.9,1)" x="-0.59" y="0" font-size="17" textLength="28.83" lengthAdjust="spacing">202</text>
<rect x="124.00" y="929.30" width="9.40" height="9.20" fill="none" stroke="#1c1c1c" stroke-width="1"/>
<text transform="translate(146.30,939.90) scale(0.9,1)" x="-0.59" y="0" font-size="17" textLength="28.23" lengthAdjust="spacingAndGlyphs">204</text>
<rect x="124.00" y="951.60" width="9.40" height="9.20" fill="url(#p216)"/>
<rect x="124.00" y="951.60" width="9.40" height="9.20" fill="none" stroke="#1c1c1c" stroke-width="1"/>
<text transform="translate(146.30,962.20) scale(0.9,1)" x="-0.59" y="0" font-size="17" textLength="28.76" lengthAdjust="spacing">216</text>
<line x1="127.60" y1="973.90" x2="127.60" y2="983.10" stroke="#222" stroke-width="1"/>
<line x1="131.20" y1="973.90" x2="131.20" y2="983.10" stroke="#222" stroke-width="1"/>
<rect x="124.00" y="973.90" width="9.40" height="9.20" fill="none" stroke="#1c1c1c" stroke-width="1"/>
<text transform="translate(146.30,984.50) scale(0.9,1)" x="-0.59" y="0" font-size="17" textLength="28.76" lengthAdjust="spacing">203</text>
<rect x="124.00" y="996.20" width="9.40" height="9.20" fill="url(#p214a)"/>
<rect x="124.00" y="996.20" width="9.40" height="9.20" fill="url(#p214b)"/>
<rect x="124.00" y="996.20" width="9.40" height="9.20" fill="none" stroke="#1c1c1c" stroke-width="1"/>
<text transform="translate(146.30,1006.80) scale(0.9,1)" x="-0.59" y="0" font-size="17" textLength="28.23" lengthAdjust="spacingAndGlyphs">214</text>
<rect x="124.00" y="1018.50" width="9.40" height="9.20" fill="url(#p226)"/>
<rect x="124.00" y="1018.50" width="9.40" height="9.20" fill="none" stroke="#1c1c1c" stroke-width="1"/>
<text transform="translate(146.30,1029.10) scale(0.9,1)" x="-0.59" y="0" font-size="17" textLength="28.76" lengthAdjust="spacing">226</text>
<text transform="translate(480.60,916.00) scale(0.9,1)" x="-1.29" y="0" font-size="24" textLength="18.37" lengthAdjust="spacingAndGlyphs" style="font-weight:normal;stroke-width:0.8px">C</text>
</svg>
</body></html>
